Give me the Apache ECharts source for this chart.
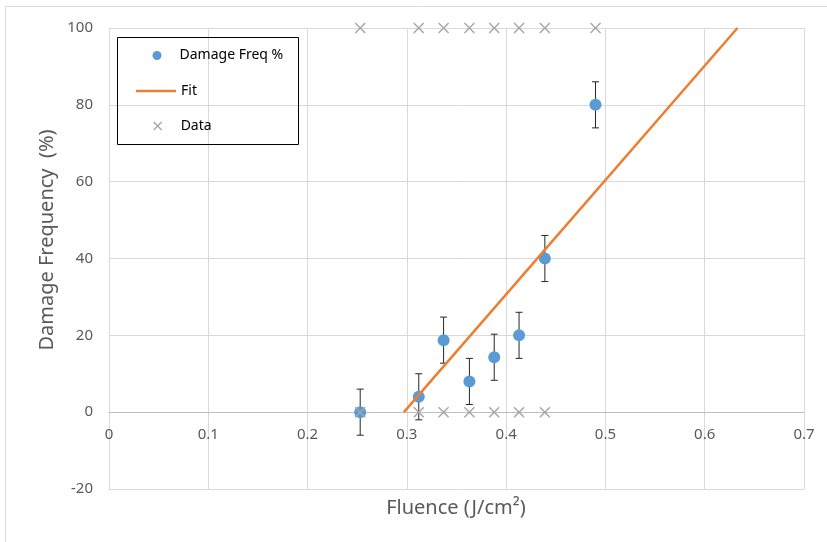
<!DOCTYPE html>
<html>
<head>
<meta charset="utf-8">
<script src="https://cdn.jsdelivr.net/npm/echarts@6/dist/echarts.min.js"></script>
<style>
html,body{margin:0;padding:0;background:#fff;}
#c{width:827px;height:542px;}
</style>
</head>
<body>
<div id="c"></div>
<script>
// ---- data ----
const fluence = [0.253, 0.312, 0.337, 0.363, 0.388, 0.413, 0.439, 0.490];
const damageFreq = [0, 4, 18.75, 8, 14.3, 20, 40, 80];
const errBar = [6, 6, 6, 6, 6, 6, 6, 6];
const dataXAt100 = [0.253, 0.312, 0.337, 0.363, 0.388, 0.413, 0.439, 0.490];
const dataXAt0 = [0.253, 0.312, 0.337, 0.363, 0.388, 0.413, 0.439];
const fitX = [0.297, 0.633];
const fitY = [0, 100];
const xTicks = { min: 0, max: 0.7, interval: 0.1 };
const yTicks = { min: -20, max: 100, interval: 20 };

const damagePts = fluence.map((x, i) => [x, damageFreq[i]]);
const errPts = fluence.map((x, i) => [x, damageFreq[i], errBar[i]]);
const dataPts = dataXAt100.map(x => [x, 100]).concat(dataXAt0.map(x => [x, 0]));
const fitPts = fitX.map((x, i) => [x, fitY[i]]);

const FONT = '"Noto Sans", "Open Sans", sans-serif';
const CROSS = 'path://M0,0L10,10M10,0L0,10';
const BAR = 'path://M0,0L40,0L40,2.5L0,2.5Z';

// grid geometry
const W = 827, H = 542;
const G = { left: 109, right: 23, top: 28, bottom: 53 };
const plotH = H - G.top - G.bottom;
// x axis sits at y = 0 of the value axis
const zeroOffset = -plotH * (0 - yTicks.min) / (yTicks.max - yTicks.min);

const legendText = { color: '#000', fontSize: 14, fontFamily: FONT, lineHeight: 16 };

const chart = echarts.init(document.getElementById('c'));
chart.setOption({
  animation: false,
  backgroundColor: '#fff',
  grid: { left: G.left, right: G.right, top: G.top, bottom: G.bottom, containLabel: false },
  xAxis: {
    type: 'value', min: xTicks.min, max: xTicks.max, interval: xTicks.interval,
    position: 'bottom', offset: zeroOffset,
    axisLine: { show: true, onZero: false, lineStyle: { color: '#bfbfbf', width: 1 } },
    axisTick: { show: false },
    splitLine: { show: true, lineStyle: { color: '#d9d9d9', width: 1 } },
    axisLabel: { color: '#595959', fontSize: 15, fontFamily: FONT, margin: 15 }
  },
  yAxis: {
    type: 'value', min: yTicks.min, max: yTicks.max, interval: yTicks.interval,
    axisLine: { show: false },
    axisTick: { show: false },
    splitLine: { show: true, lineStyle: { color: '#d9d9d9', width: 1 } },
    axisLabel: { color: '#595959', fontSize: 15, fontFamily: FONT, margin: 16 }
  },
  legend: [
    { data: [{ name: 'Damage Freq %', icon: 'circle', itemStyle: { color: '#5b9bd5', opacity: 1 } }],
      left: 152.5, top: 47.5, itemWidth: 9, itemHeight: 9, padding: 0,
      textStyle: Object.assign({ padding: [0, 0, 0, 13] }, legendText), selectedMode: false },
    { data: [{ name: 'Fit', icon: BAR }], left: 136, top: 83, itemWidth: 40, itemHeight: 8, padding: 0,
      textStyle: legendText, selectedMode: false },
    { data: [{ name: 'Data', icon: CROSS, itemStyle: { color: 'rgba(0,0,0,0)', borderColor: '#a5a5a5', borderWidth: 1.3, opacity: 1 } }],
      left: 153, top: 118, itemWidth: 8, itemHeight: 8, padding: 0,
      textStyle: Object.assign({ padding: [0, 0, 0, 14] }, legendText), selectedMode: false }
  ],
  graphic: [
    { type: 'rect', silent: true, z: -10, shape: { x: 5.5, y: 6.5, width: 900, height: 600 },
      style: { fill: 'none', stroke: '#d9d9d9', lineWidth: 1 } },
    { type: 'rect', silent: true, z: 10, shape: { x: 117.5, y: 37.5, width: 181, height: 107 },
      style: { fill: 'none', stroke: '#000', lineWidth: 1 } },
    { type: 'text', silent: true, x: 456, y: 508,
      style: { text: 'Fluence (J/cm\u00B2)', fill: '#595959', font: '20px ' + FONT, textAlign: 'center', textVerticalAlign: 'middle' } },
    { type: 'text', silent: true, x: 47, y: 240, rotation: Math.PI / 2,
      style: { text: 'Damage Frequency  (%)', fill: '#595959', font: '20px ' + FONT, textAlign: 'center', textVerticalAlign: 'middle' } }
  ],
  series: [
    {
      type: 'custom', name: 'err', z: 2,
      data: errPts,
      renderItem: function (params, api) {
        const x = api.value(0), y = api.value(1), e = api.value(2);
        const t = api.coord([x, y + e]);
        const b = api.coord([x, y - e]);
        const hw = 3.5;
        const st = { stroke: '#262626', lineWidth: 1 };
        return {
          type: 'group', children: [
            { type: 'line', shape: { x1: t[0], y1: t[1], x2: b[0], y2: b[1] }, style: st },
            { type: 'line', shape: { x1: t[0] - hw, y1: t[1], x2: t[0] + hw, y2: t[1] }, style: st },
            { type: 'line', shape: { x1: b[0] - hw, y1: b[1], x2: b[0] + hw, y2: b[1] }, style: st }
          ]
        };
      }
    },
    {
      type: 'scatter', name: 'Damage Freq %', z: 3,
      data: damagePts, symbol: 'circle', symbolSize: 12,
      itemStyle: { color: '#5b9bd5', opacity: 1 }
    },
    {
      type: 'line', name: 'Fit', z: 4,
      data: fitPts, symbol: 'none', showSymbol: false,
      lineStyle: { color: '#ed7d31', width: 2.5 },
      itemStyle: { color: '#ed7d31' }
    },
    {
      type: 'scatter', name: 'Data', z: 5,
      data: dataPts, symbol: CROSS, symbolSize: 10,
      itemStyle: { color: 'rgba(0,0,0,0)', borderColor: '#a5a5a5', borderWidth: 1.4, opacity: 1 }
    }
  ]
});
</script>
</body>
</html>
